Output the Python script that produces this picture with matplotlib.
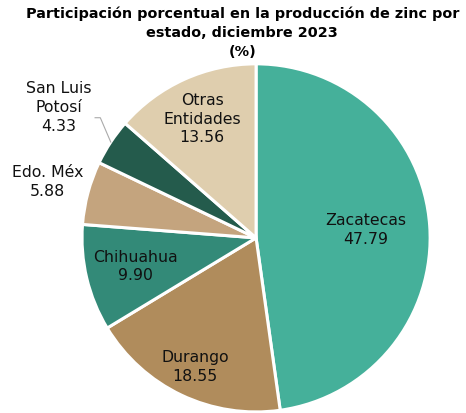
import matplotlib.pyplot as plt
import numpy as np

plt.rcParams['font.family'] = ['DejaVu Sans']

estados = ['Zacatecas', 'Durango', 'Chihuahua', 'Edo. Méx', 'San Luis\nPotosí', 'Otras\nEntidades']
valores = [47.79, 18.55, 9.90, 5.88, 4.33, 13.56]
colores = ['#45b09a', '#b08c5c', '#338a78', '#c4a47e', '#245b4c', '#dfceae']
# distance of each label from the centre (fraction of radius)
dist = [0.63, 0.82, 0.71, 1.24, 1.36, 0.75]

fig = plt.figure(figsize=(4.66, 4.13), dpi=100)
ax = fig.add_axes([0.176, 0.0025, 0.747, 0.843])

wedges, _ = ax.pie(valores, colors=colores, startangle=90, counterclock=False,
                   radius=1.0, wedgeprops=dict(edgecolor='white', linewidth=2.2))
ax.set_xlim(-1, 1)
ax.set_ylim(-1, 1)

for w, nom, v, d in zip(wedges, estados, valores, dist):
    ang = np.deg2rad((w.theta1 + w.theta2) / 2)
    x, y = d * np.cos(ang), d * np.sin(ang)
    ax.text(x, y, f'{nom}\n{v:.2f}', ha='center', va='center', fontsize=11.3,
            color='#111111', linespacing=1.3)
    if nom.startswith('San Luis'):
        # leader line from the wedge edge to the label
        ex, ey = np.cos(ang), np.sin(ang)
        ax.plot([ex, ex - 0.06, ex - 0.09], [ey, ey + 0.14, ey + 0.14],
                color='#aaaaaa', lw=0.8)

fig.text(0.52, 0.985, 'Participación porcentual en la producción de zinc por\nestado, diciembre 2023\n(%)',
         ha='center', va='top', fontsize=10.4, fontweight='bold', linespacing=1.45)

fig.savefig('out.png', dpi=100)
